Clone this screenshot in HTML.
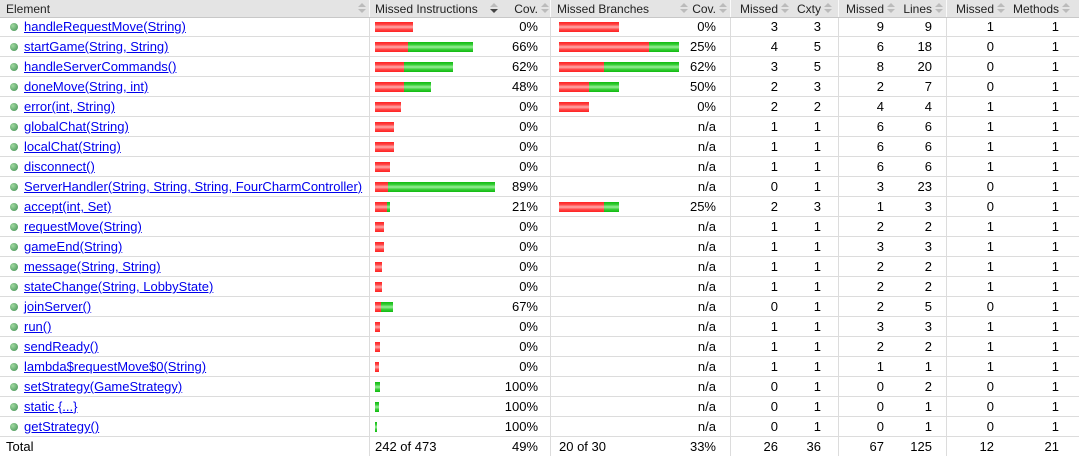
<!DOCTYPE html>
<html><head><meta charset="utf-8">
<style>
body{margin:0;width:1079px;height:456px;overflow:hidden;background:#fff;font-family:"Liberation Sans",Arial,sans-serif;font-size:13px;color:#000;position:relative}
.abs{position:absolute;white-space:nowrap}
.hdr{position:absolute;left:0;top:0;width:1079px;height:17px;background:#e4e4e4;border-bottom:1px solid #c8c8c8}
.ht{position:absolute;top:2px;color:#222;font-size:12px;white-space:nowrap}
.sort{position:absolute;top:4px;width:0;height:0}
.row{position:absolute;left:0;width:1079px;height:19px;border-bottom:1px solid #dcdcdc}
.vl{position:absolute;top:0;width:1px;height:456px;background:#dcdcdc}
.vh{position:absolute;top:0;width:1px;height:17px;background:#fafafa}
.lnk{color:#0000ee;text-decoration:underline}
.dot{position:absolute;width:8px;height:8px;border-radius:50%;background:radial-gradient(circle at 35% 35%,#a0d8a0,#3f8f50)}
.bar{position:absolute;height:10px}
.red{background:linear-gradient(#f22 0%,#f44 25%,#faa 50%,#f44 75%,#f22 100%)}
.grn{background:linear-gradient(#1b1 0%,#3c3 25%,#9e9 50%,#3c3 75%,#1b1 100%)}
.num{position:absolute;text-align:right;white-space:nowrap}
</style></head><body>
<div class="hdr"></div>
<div id="root"></div>
<script>
const names=["handleRequestMove(String)","startGame(String, String)","handleServerCommands()","doneMove(String, int)","error(int, String)","globalChat(String)","localChat(String)","disconnect()","ServerHandler(String, String, String, FourCharmController)","accept(int, Set)","requestMove(String)","gameEnd(String)","message(String, String)","stateChange(String, LobbyState)","joinServer()","run()","sendReady()","lambda$requestMove$0(String)","setStrategy(GameStrategy)","static {...}","getStrategy()"];
const instrMissed=[32,28,25,25,22,16,16,13,11,10,8,8,6,6,5,4,4,3,0,0,0];
const instrCovered=[0,55,41,23,0,0,0,0,91,3,0,0,0,0,10,0,0,0,4,3,2];
const instrCov=["0%","66%","62%","48%","0%","0%","0%","0%","89%","21%","0%","0%","0%","0%","67%","0%","0%","0%","100%","100%","100%"];
const brMissed=[4,6,3,2,2,0,0,0,0,3,0,0,0,0,0,0,0,0,0,0,0];
const brCovered=[0,2,5,2,0,0,0,0,0,1,0,0,0,0,0,0,0,0,0,0,0];
const brCov=["0%","25%","62%","50%","0%","n/a","n/a","n/a","n/a","25%","n/a","n/a","n/a","n/a","n/a","n/a","n/a","n/a","n/a","n/a","n/a"];
const cxMissed=[3,4,3,2,2,1,1,1,0,2,1,1,1,1,0,1,1,1,0,0,0];
const cxty=[3,5,5,3,2,1,1,1,1,3,1,1,1,1,1,1,1,1,1,1,1];
const lnMissed=[9,6,8,2,4,6,6,6,3,1,2,3,2,2,2,3,2,1,0,0,0];
const lines=[9,18,20,7,4,6,6,6,23,3,2,3,2,2,5,3,2,1,2,1,1];
const mMissed=[1,0,0,0,1,1,1,1,0,0,1,1,1,1,0,1,1,1,0,0,0];
const methods=[1,1,1,1,1,1,1,1,1,1,1,1,1,1,1,1,1,1,1,1,1];
const headers=["Element","Missed Instructions","Cov.","Missed Branches","Cov.","Missed","Cxty","Missed","Lines","Missed","Methods"];
const totals=["Total","242 of 473","49%","20 of 30","33%","26","36","67","125","12","21"];

const root=document.getElementById('root');
function mk(cls,style,text){const d=document.createElement('div');d.className=cls;d.style.cssText=style;if(text!==undefined)d.textContent=text;root.appendChild(d);return d;}
const rightEdges={2:538,4:716,5:778,6:821,7:884,8:932,9:994,10:1059};
const numCols=[instrCov,brCov,cxMissed,cxty,lnMissed,lines,mMissed,methods];
const numIdx=[2,4,5,6,7,8,9,10];
const instrMax=Math.max(...instrMissed.map((m,i)=>m+instrCovered[i]));
const brMax=Math.max(...brMissed.map((m,i)=>m+brCovered[i]));
function xI(v){return v*120/instrMax;}
function xB(v){return v*120/brMax;}
[369,550,730,838,946].forEach(x=>{
  const v=mk('vl','left:'+x+'px;top:18px;height:438px');
  
  
  const h=mk('vh','left:'+x+'px');
  
  
});
const hLeft={0:6,1:375,3:557};
const sortX={0:358,1:490,3:680};
headers.forEach((h,i)=>{
  let el;
  if(i in hLeft){el=mk('ht','left:'+hLeft[i]+'px',h);}
  else{el=mk('ht','right:'+(1079-rightEdges[i])+'px',h);}
  
  
  let sx = i in sortX ? sortX[i] : rightEdges[i]+3;
  const up=mk('sort','left:'+sx+'px;top:3px;border-left:4px solid transparent;border-right:4px solid transparent;border-bottom:4px solid #bbb');
  
  
  const dn=mk('sort','left:'+sx+'px;top:9px;border-left:4px solid transparent;border-right:4px solid transparent;border-top:4px solid '+(i===1?'#444':'#bbb'));
  
  
});
names.forEach((n,r)=>{
  const top=17+r*20;
  const row=mk('row','top:'+top+'px');
  
  
  const dot=mk('dot','left:10px;top:'+(top+6)+'px');
  
  
  const l=mk('abs lnk','left:24px;top:'+(top+2)+'px',n);
  
  
  const by=top+5;
  let w1=xI(instrMissed[r]),w2=xI(instrCovered[r]);
  if(w1>0){const b=mk('bar red','left:375px;top:'+by+'px;width:'+w1+'px');}
  if(w2>0){const b=mk('bar grn','left:'+(375+w1)+'px;top:'+by+'px;width:'+Math.max(w2,2)+'px');}
  let b1=xB(brMissed[r]),b2=xB(brCovered[r]);
  if(b1>0){const b=mk('bar red','left:559px;top:'+by+'px;width:'+b1+'px');}
  if(b2>0){const b=mk('bar grn','left:'+(559+b1)+'px;top:'+by+'px;width:'+b2+'px');}
  numCols.forEach((arr,k)=>{
    const c=numIdx[k];
    const t=mk('num','right:'+(1079-rightEdges[c])+'px;top:'+(top+2)+'px',String(arr[r]));
    
    
  });
});
const tt=17+21*20;
totals.forEach((v,i)=>{
  let t;
  if(i===0) t=mk('abs','left:6px;top:'+(tt+2)+'px',v);
  else if(i===1) t=mk('abs','left:375px;top:'+(tt+2)+'px',v);
  else if(i===3) t=mk('abs','left:559px;top:'+(tt+2)+'px',v);
  else t=mk('num','right:'+(1079-rightEdges[i])+'px;top:'+(tt+2)+'px',v);
  
  
});
</script>
</body></html>
